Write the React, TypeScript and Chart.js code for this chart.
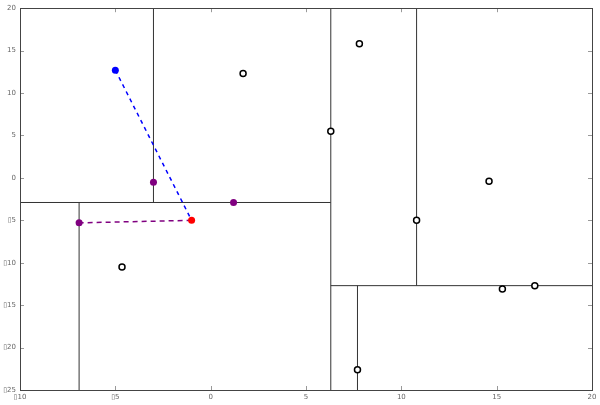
import React, { useEffect, useRef } from "react";
import { Chart, registerables } from "chart.js";

Chart.register(...registerables);

// Tree split lines (data coordinates)
const vSplitX = [-3, 6.3, 10.8, -6.9, 7.7];
const vSplitYFrom = [-2.9, -25, -12.7, -25, -25];
const vSplitYTo = [20, 20, 20, -2.9, -12.7];
const hSplitY = [-2.9, -12.7];
const hSplitXFrom = [-10, 6.3];
const hSplitXTo = [6.3, 20];

// Points
const openX = [1.7, -4.65, 6.3, 7.8, 10.8, 17.0, 14.6, 15.3, 7.7];
const openY = [12.3, -10.5, 5.5, 15.8, -5.0, -12.7, -0.4, -13.1, -22.6];
const purpleX = [-3, 1.2, -6.9];
const purpleY = [-0.5, -2.9, -5.3];
const blueX = [-5];
const blueY = [12.7];
const redX = [-1];
const redY = [-5];

// Search path (dashed)
const bluePathX = [-5, -1];
const bluePathY = [12.7, -5];
const purplePathX = [-1, -6.9];
const purplePathY = [-5, -5.3];

const X_MIN = -10, X_MAX = 20, Y_MIN = -25, Y_MAX = 20, STEP = 5;

const fmt = (v: number) => (v < 0 ? "\u25AF" + Math.abs(v) : String(v));
const pts = (xs: number[], ys: number[]) => xs.map((x, i) => ({ x, y: ys[i] }));

const frame = {
  id: "frame",
  afterDatasetsDraw(chart: any) {
    const { ctx, chartArea: a, scales } = chart;
    ctx.save();
    ctx.strokeStyle = "#999";
    ctx.lineWidth = 1;
    const L = 4;
    for (let v = X_MIN; v <= X_MAX; v += STEP) {
      const px = Math.round(scales.x.getPixelForValue(v)) + 0.5;
      ctx.beginPath();
      ctx.moveTo(px, a.bottom); ctx.lineTo(px, a.bottom - L);
      ctx.moveTo(px, a.top); ctx.lineTo(px, a.top + L);
      ctx.stroke();
    }
    for (let v = Y_MIN; v <= Y_MAX; v += STEP) {
      const py = Math.round(scales.y.getPixelForValue(v)) + 0.5;
      ctx.beginPath();
      ctx.moveTo(a.left, py); ctx.lineTo(a.left + L, py);
      ctx.moveTo(a.right, py); ctx.lineTo(a.right - L, py);
      ctx.stroke();
    }
    ctx.strokeStyle = "#444";
    ctx.strokeRect(Math.round(a.left) + 0.5, Math.round(a.top) + 0.5, Math.round(a.right - a.left), Math.round(a.bottom - a.top));
    ctx.restore();
  },
};

export default function App() {
  const ref = useRef<HTMLCanvasElement>(null);
  useEffect(() => {
    const splitSets: any[] = [];
    vSplitX.forEach((x, i) => {
      splitSets.push({
        data: pts([x, x], [vSplitYFrom[i], vSplitYTo[i]]),
        showLine: true, borderColor: "#333", borderWidth: 1, pointRadius: 0, order: 5,
      });
    });
    hSplitY.forEach((y, i) => {
      splitSets.push({
        data: pts([hSplitXFrom[i], hSplitXTo[i]], [y, y]),
        showLine: true, borderColor: "#333", borderWidth: 1, pointRadius: 0, order: 5,
      });
    });
    const chart = new Chart(ref.current!, {
      type: "scatter",
      data: {
        datasets: [
          ...splitSets,
          { data: pts(bluePathX, bluePathY), showLine: true, borderColor: "#0000ff", borderWidth: 1.5, borderDash: [4, 4], pointRadius: 0, order: 4 },
          { data: pts(purplePathX, purplePathY), showLine: true, borderColor: "#800080", borderWidth: 1.5, borderDash: [5, 4], pointRadius: 0, order: 4 },
          { data: pts(openX, openY), pointRadius: 3, pointBorderWidth: 1.5, pointBackgroundColor: "#ffffff", pointBorderColor: "#000000", order: 1 },
          { data: pts(purpleX, purpleY), pointRadius: 3.5, pointBorderWidth: 0, pointBackgroundColor: "#800080", order: 1 },
          { data: pts(blueX, blueY), pointRadius: 3.5, pointBorderWidth: 0, pointBackgroundColor: "#0000ff", order: 1 },
          { data: pts(redX, redY), pointRadius: 3.5, pointBorderWidth: 0, pointBackgroundColor: "#ff0000", order: 1 },
        ],
      },
      options: {
        animation: false,
        responsive: false,
        maintainAspectRatio: false,
        layout: { padding: { top: 8, right: 8, left: 0, bottom: 0 } },
        plugins: { legend: { display: false }, tooltip: { enabled: false } },
        scales: {
          x: {
            type: "linear", min: X_MIN, max: X_MAX,
            grid: { display: false, drawTicks: false },
            border: { display: false },
            ticks: { stepSize: STEP, padding: 3, color: "#666", font: { family: "DejaVu Sans", size: 7 }, callback: (v: any) => fmt(Number(v)), maxRotation: 0 },
            afterFit: (s: any) => { s.height = 15; },
          },
          y: {
            type: "linear", min: Y_MIN, max: Y_MAX,
            grid: { display: false, drawTicks: false },
            border: { display: false },
            ticks: { stepSize: STEP, padding: 4, color: "#666", font: { family: "DejaVu Sans", size: 7 }, callback: (v: any) => fmt(Number(v)) },
            afterFit: (s: any) => { s.width = 20; },
          },
        },
      },
      plugins: [frame],
    } as any);
    return () => chart.destroy();
  }, []);
  return (
    <div style={{ position: "fixed", left: 0, top: 0, width: 600, height: 405, background: "#fff" }}>
      <canvas ref={ref} width={600} height={405} style={{ width: 600, height: 405 }} />
    </div>
  );
}
